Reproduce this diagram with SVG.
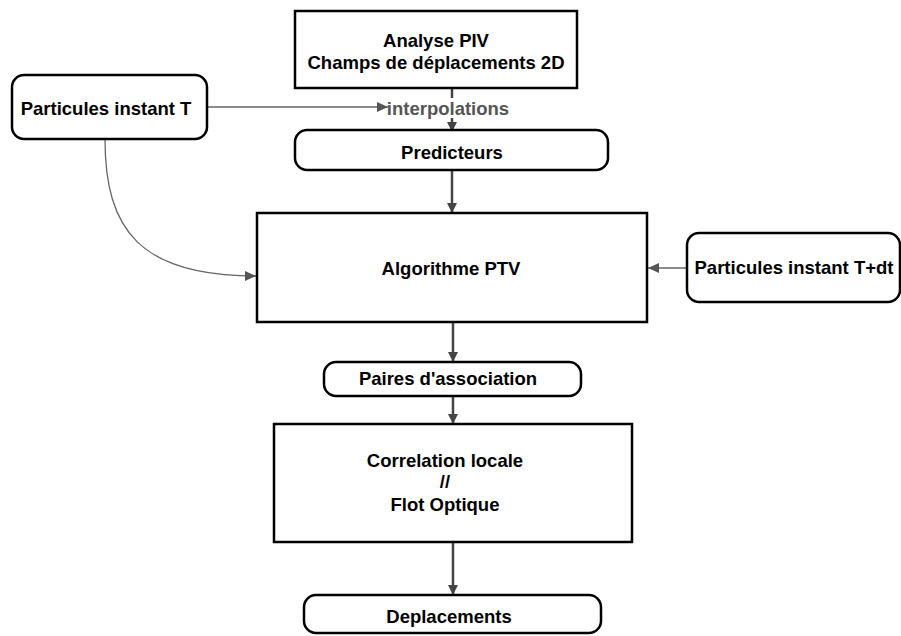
<svg xmlns="http://www.w3.org/2000/svg" width="901" height="636" viewBox="0 0 901 636">
<style>
.box{fill:#fff;stroke:#000;stroke-width:2.5}
.t{font-family:"Liberation Sans",Arial,sans-serif;font-weight:bold;font-size:18.5px;fill:#000;text-anchor:middle}
.c{fill:none;stroke:#444;stroke-width:2.5}
.s{fill:none;stroke:#666;stroke-width:1.3}
.lbl{font-family:"Liberation Sans",Arial,sans-serif;font-weight:bold;font-size:18.5px;fill:#555;text-anchor:middle}
</style>
<defs>
<marker id="a" markerWidth="10" markerHeight="10" refX="9" refY="5" orient="auto" markerUnits="userSpaceOnUse"><path d="M0,0 L10,5 L0,10 z" fill="#444"/></marker>
<marker id="b" markerWidth="12" markerHeight="12" refX="11" refY="6" orient="auto" markerUnits="userSpaceOnUse"><path d="M0,1 L11,6 L0,11 z" fill="#555"/></marker>
</defs>
<rect width="901" height="636" fill="#fff"/>
<g id="connectors">
<line class="c" x1="452" y1="88" x2="452" y2="98"/>
<line class="c" x1="452" y1="118" x2="452" y2="131" marker-end="url(#a)"/>
<line class="s" x1="207" y1="107" x2="388" y2="107" marker-end="url(#b)"/>
<text class="lbl" x="448" y="115">interpolations</text>
<line class="c" x1="452" y1="170" x2="452" y2="212" marker-end="url(#a)"/>
<path class="s" d="M105,139 C105,230 140,276 256,276" marker-end="url(#b)"/>
<line class="s" x1="687" y1="268" x2="648" y2="268" marker-end="url(#b)"/>
<line class="c" x1="453" y1="322" x2="453" y2="361" marker-end="url(#a)"/>
<line class="c" x1="453" y1="396" x2="453" y2="423" marker-end="url(#a)"/>
<line class="c" x1="453" y1="542" x2="453" y2="594" marker-end="url(#a)"/>
</g>
<g id="n-piv"><rect class="box" x="295" y="11" width="282" height="77"/><text class="t" x="436" y="47">Analyse PIV</text><text class="t" x="436" y="69">Champs de déplacements 2D</text></g>
<g id="n-partT"><rect class="box" x="12" y="75" width="195" height="64" rx="12"/><text class="t" x="106" y="115">Particules instant T</text></g>
<g id="n-pred"><rect class="box" x="295" y="130" width="313" height="40" rx="12"/><text class="t" x="452" y="159">Predicteurs</text></g>
<g id="n-ptv"><rect class="box" x="257" y="213" width="390" height="109"/><text class="t" x="451" y="275">Algorithme PTV</text></g>
<g id="n-partTdt"><rect class="box" x="687" y="233" width="213" height="69" rx="12"/><text class="t" x="794" y="274">Particules instant T+dt</text></g>
<g id="n-paires"><rect class="box" x="324" y="362" width="257" height="34" rx="12"/><text class="t" x="448" y="385">Paires d'association</text></g>
<g id="n-corr"><rect class="box" x="274" y="424" width="358" height="118"/><text class="t" x="445" y="467">Correlation locale</text><text class="t" x="445" y="488">//</text><text class="t" x="445" y="511">Flot Optique</text></g>
<g id="n-depl"><rect class="box" x="304" y="595" width="297" height="38" rx="12"/><text class="t" x="449" y="623">Deplacements</text></g>
</svg>
